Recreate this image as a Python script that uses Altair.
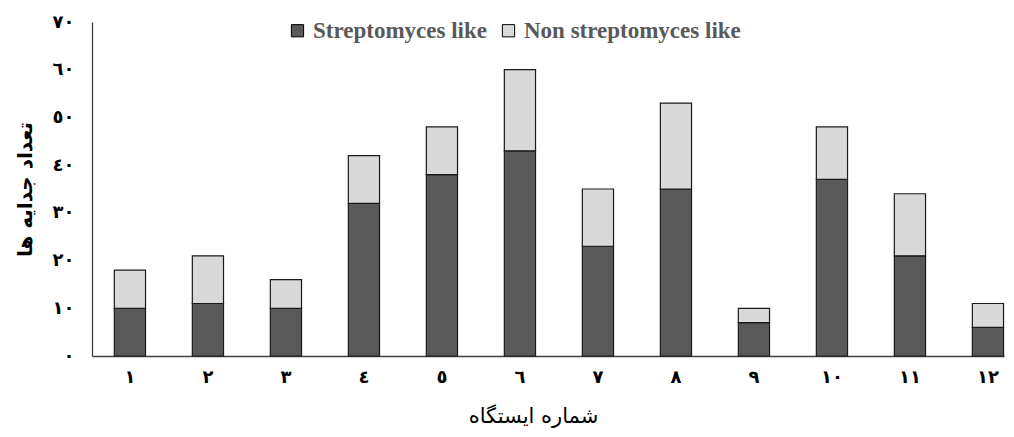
import altair as alt
import pandas as pd

stations = ['١', '٢', '٣', '٤', '٥', '٦', '٧', '٨', '٩', '١٠', '١١', '١٢']
streptomyces = [10, 11, 10, 32, 38, 43, 23, 35, 7, 37, 21, 6]
non_streptomyces = [8, 10, 6, 10, 10, 17, 12, 18, 3, 11, 13, 5]
series_names = ['Streptomyces like', 'Non streptomyces like']
series_colors = ['#595959', '#d9d9d9']
y_tick_values = [0, 10, 20, 30, 40, 50, 60, 70]
y_tick_labels = ['٠', '١٠', '٢٠', '٣٠', '٤٠', '٥٠', '٦٠', '٧٠']

rows = []
for i, s in enumerate(stations):
    rows.append({'station': s, 'series': series_names[0], 'value': streptomyces[i], 'ord': 0})
    rows.append({'station': s, 'series': series_names[1], 'value': non_streptomyces[i], 'ord': 1})
df = pd.DataFrame(rows)

label_expr = "[" + ",".join("'%s'" % l for l in y_tick_labels) + "][round(datum.value/10)]"

chart = alt.Chart(df).mark_bar(stroke='#1a1a1a', strokeWidth=1.2).encode(
    x=alt.X('station:N', sort=stations,
            scale=alt.Scale(paddingInner=0.6, paddingOuter=0.146, align=0.98),
            axis=alt.Axis(title='شماره ایستگاه', labelAngle=0, ticks=False,
                          labelFont='DejaVu Sans', labelFontWeight='bold', labelFontSize=18,
                          labelColor='#000000', labelPadding=12,
                          domainColor='#404040', domainWidth=1.3,
                          titleFont='DejaVu Sans', titleFontSize=21, titleFontWeight='normal',
                          titleColor='#000000', titleX=441, titleY=66,
                          titleBaseline='alphabetic', titleAnchor='middle', titleAlign='center')),
    y=alt.Y('value:Q', stack='zero',
            scale=alt.Scale(domain=[0, 70], nice=False),
            axis=alt.Axis(title='تعداد جدایه ها', values=y_tick_values, labelExpr=label_expr,
                          ticks=False, grid=False,
                          labelFont='DejaVu Sans', labelFontWeight='bold', labelFontSize=18,
                          labelColor='#000000', labelPadding=18,
                          domainColor='#404040', domainWidth=1.3,
                          titleFont='DejaVu Sans', titleFontSize=20, titleFontWeight='bold',
                          titleColor='#000000', titleX=-67, titleY=167,
                          titleBaseline='middle', titleAngle=270)),
    color=alt.Color('series:N', sort=series_names,
                    scale=alt.Scale(domain=series_names, range=series_colors),
                    legend=alt.Legend(title=None, orient='none', direction='horizontal',
                                      legendX=194, legendY=-3,
                                      symbolType='square', symbolSize=150,
                                      symbolStrokeColor='#000000', symbolStrokeWidth=1,
                                      labelFont='Liberation Serif', labelFontWeight='bold',
                                      labelFontSize=23, labelColor='#595959', labelLimit=0,
                                      labelOffset=4, columnPadding=10)),
    order=alt.Order('ord:Q', sort='ascending'),
).properties(
    width=912, height=334,
    autosize=alt.AutoSizeParams(type='none'),
    padding={'left': 84, 'top': 14, 'right': 2, 'bottom': 73},
).configure_view(stroke=None)

chart.save("out.html", embed_options={"renderer": "svg", "actions": False})
